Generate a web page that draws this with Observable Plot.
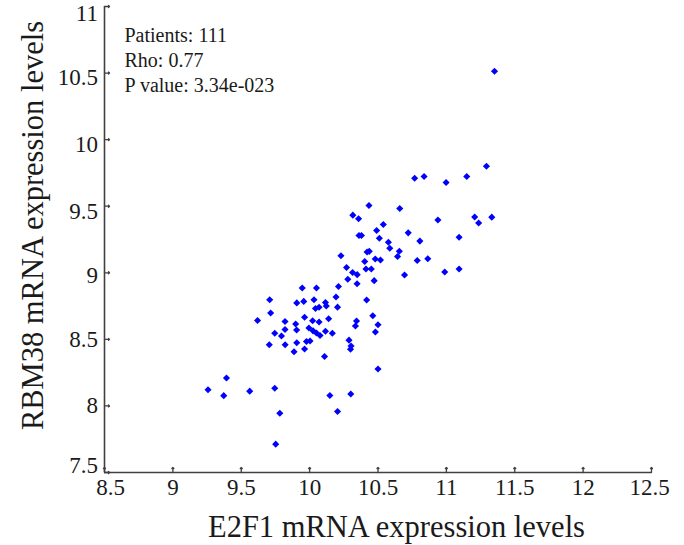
<!DOCTYPE html>
<html>
<head>
<meta charset="utf-8">
<script src="https://cdn.jsdelivr.net/npm/d3@7"></script>
<script src="https://cdn.jsdelivr.net/npm/@observablehq/plot@0.6"></script>
<style>
  html, body { margin: 0; padding: 0; background: #ffffff; }
  #chart { width: 684px; height: 545px; }
</style>
</head>
<body>
<div id="chart"></div>
<script>
// E2F1 mRNA expression levels (x) for each patient
const e2f1 = [
  9.257, 9.392, 9.372, 9.562, 9.745, 9.782, 9.752, 9.619, 9.708, 9.715,
  9.745, 9.705, 9.794, 9.820, 9.820, 9.821, 9.886, 9.898, 9.905, 9.906,
  9.906, 9.946, 9.957, 9.963, 9.963, 9.977, 10.003, 9.995, 10.025, 10.032,
  10.050, 10.022, 10.069, 10.043, 10.069, 10.050, 10.076, 10.116, 10.122, 10.139,
  10.116, 10.166, 10.109, 10.148, 10.204, 10.193, 10.204, 10.211, 10.229, 10.270,
  10.279, 10.316, 10.358, 10.314, 10.348, 10.347, 10.361, 10.379, 10.403, 10.412,
  10.451, 10.417, 10.434, 10.420, 10.436, 10.480, 10.518, 10.472, 10.462, 10.343,
  10.335, 10.500, 10.481, 10.288, 10.303, 10.299, 10.301, 10.500, 10.490, 10.510,
  10.539, 10.576, 10.586, 10.659, 10.656, 10.643, 10.694, 10.721, 10.768, 10.837,
  10.806, 10.787, 10.864, 10.938, 10.988, 10.998, 11.093, 11.093, 11.149, 11.207,
  11.236, 11.293, 11.332, 11.352
];
// RBM38 mRNA expression levels (y) for each patient
const rbm38 = [
  8.121, 8.210, 8.077, 8.111, 8.133, 7.945, 7.713, 8.642, 8.797, 8.698,
  8.546, 8.459, 8.525, 8.634, 8.574, 8.460, 8.407, 8.615, 8.570, 8.475,
  8.774, 8.886, 8.785, 8.666, 8.428, 8.484, 8.488, 8.585, 8.564, 8.798,
  8.886, 8.640, 8.630, 8.732, 8.741, 8.548, 8.529, 8.777, 8.751, 8.655,
  8.561, 8.546, 8.371, 8.078, 7.958, 8.818, 8.742, 8.897, 9.128, 9.040,
  8.951, 9.433, 9.406, 9.002, 8.986, 8.918, 9.280, 9.280, 9.085, 9.028,
  9.028, 8.796, 9.505, 9.156, 9.161, 9.104, 9.096, 8.941, 8.677, 8.638,
  8.600, 8.610, 8.555, 8.494, 8.450, 8.426, 8.090, 8.277, 9.318, 9.259,
  9.363, 9.229, 9.184, 9.483, 9.162, 9.122, 8.983, 9.300, 9.710, 9.723,
  9.238, 9.092, 9.105, 9.397, 9.006, 9.678, 9.267, 9.028, 9.723, 9.419,
  9.374, 9.800, 9.418, 10.514
];

const xTicks = [8.5, 9, 9.5, 10, 10.5, 11, 11.5, 12, 12.5];
const yTicks = [7.5, 8, 8.5, 9, 9.5, 10, 10.5, 11];
const xTitle = "E2F1 mRNA expression levels";
const yTitle = "RBM38 mRNA expression levels";
const statLines = ["Patients: 111", "Rho: 0.77", "P value: 3.34e-023"];

const points = e2f1.map((x, i) => ({x, y: rbm38[i]}));
const serif = "'Liberation Serif', 'Times New Roman', Times, serif";
const ink = "#1a1a1a";
const axisInk = "#404040";

// tick-label groups (label nudges keep the end labels inside, as in the source figure)
const xLabelGroups = [
  {ticks: [xTicks[0]], dx: 6},
  {ticks: xTicks.slice(1, -1), dx: 0},
  {ticks: [xTicks[xTicks.length - 1]], dx: -2}
];
const yLabelGroups = [
  {ticks: [11], dy: 7},
  {ticks: [10.5, 10, 9.5], dy: 5},
  {ticks: [9], dy: 3},
  {ticks: [8.5, 8], dy: 0},
  {ticks: [7.5], dy: -7}
];

const chart = Plot.plot({
  width: 684,
  height: 545,
  marginLeft: 104,
  marginRight: 33,
  marginTop: 6,
  marginBottom: 73,
  style: {fontFamily: serif, background: "#ffffff", color: ink},
  x: {domain: [8.5, 12.5], axis: null},
  y: {domain: [7.5, 11], axis: null},
  marks: [
    // axis lines
    Plot.ruleY([7.5], {stroke: axisInk, strokeWidth: 1.6}),
    Plot.ruleX([8.5], {stroke: axisInk, strokeWidth: 1.6}),
    // inward ticks
    Plot.vector(xTicks, {x: d => d, frameAnchor: "bottom", length: 5, rotate: 0, anchor: "start", stroke: axisInk, strokeWidth: 1.3}),
    Plot.vector(yTicks, {y: d => d, frameAnchor: "left", length: 5, rotate: 90, anchor: "start", stroke: axisInk, strokeWidth: 1.3}),
    // tick labels
    ...xLabelGroups.map(g => Plot.text(g.ticks, {
      x: d => d, text: d => String(d), frameAnchor: "bottom", textAnchor: "middle", lineAnchor: "top",
      dy: 6, dx: g.dx, fontSize: 23, fontFamily: serif, fill: ink
    })),
    ...yLabelGroups.map(g => Plot.text(g.ticks, {
      y: d => d, text: d => String(d), frameAnchor: "left", textAnchor: "end", lineAnchor: "middle",
      dx: -6.5, dy: g.dy, fontSize: 23, fontFamily: serif, fill: ink
    })),
    // data
    Plot.dot(points, {x: "x", y: "y", symbol: "diamond2", r: 3.2, fill: "#0000ff", stroke: "none"}),
    // statistics
    Plot.text([statLines.join("\n")], {
      frameAnchor: "top-left", textAnchor: "start", lineAnchor: "top",
      dx: 20, dy: 18.5, fontSize: 20, lineHeight: 1.23, fill: ink, fontFamily: serif
    }),
    // axis titles
    Plot.text([xTitle], {
      frameAnchor: "bottom", textAnchor: "middle", lineAnchor: "middle", dx: 18.5, dy: 54.4,
      fontSize: 30.5, fill: ink, fontFamily: serif
    }),
    Plot.text([yTitle], {
      frameAnchor: "left", textAnchor: "middle", lineAnchor: "middle", rotate: -90, dx: -71.6, dy: -14,
      fontSize: 30.5, fill: ink, fontFamily: serif
    })
  ]
});
document.getElementById("chart").appendChild(chart);
</script>
</body>
</html>
